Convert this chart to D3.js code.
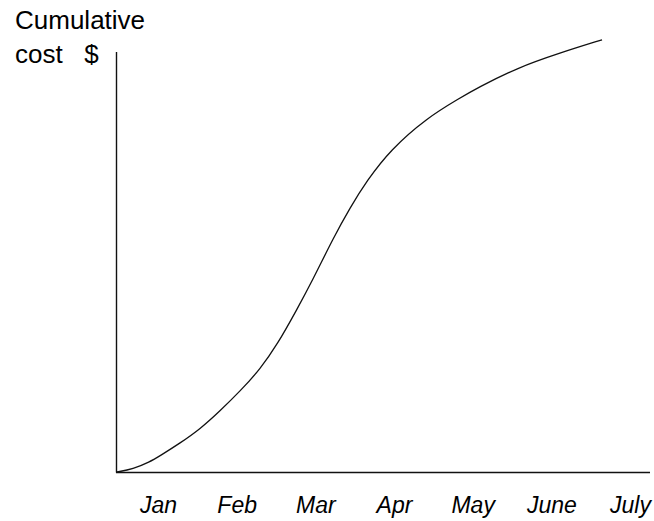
<!DOCTYPE html>
<html>
<head>
<meta charset="utf-8">
<script src="https://cdn.jsdelivr.net/npm/d3@7"></script>
<style>
  body { margin: 0; background: #fff; }
  text { font-family: "Liberation Sans", Arial, sans-serif; fill: #000; }
</style>
</head>
<body>
<div id="chart"></div>
<script>
// month labels along the bottom
const months = ["Jan", "Feb", "Mar", "Apr", "May", "June", "July"];

// cumulative cost curve: time in months from start, cost in arbitrary units
const timeMonths = [0, 0.21, 0.43, 0.56, 0.83, 1.09, 1.35, 1.62, 1.88, 2.11, 2.36, 2.57,
                    2.84, 3.06, 3.28, 3.59, 4.07, 4.50, 4.73, 5.25, 5.82, 6.37];
const costValues = [0, 0.7, 2.4, 3.8, 6.9, 10.2, 14.5, 19.3, 24.5, 30.5, 38.6, 45.7,
                    55.7, 62.9, 69.3, 76.7, 84.3, 89.0, 91.4, 96.2, 99.8, 102.9];

const width = 654, height = 521;

const svg = d3.select("#chart")
    .append("svg")
    .attr("width", width)
    .attr("height", height);

// scales
const x = d3.scaleLinear().domain([0, 7]).range([117, 650]);
const y = d3.scaleLinear().domain([0, 100]).range([472, 52]);
const xLabels = d3.scalePoint().domain(months).range([158, 630]);

const data = timeMonths.map((t, i) => ({ t: t, c: costValues[i] }));

// axes lines
svg.append("line")
    .attr("x1", 116.5).attr("x2", 116.5)
    .attr("y1", y(100)).attr("y2", y(0) + 0.5)
    .attr("stroke", "#111").attr("stroke-width", 1.4);

svg.append("line")
    .attr("x1", 116).attr("x2", x(7))
    .attr("y1", y(0) + 0.5).attr("y2", y(0) + 0.5)
    .attr("stroke", "#111").attr("stroke-width", 1.4);

// month labels
const xAxis = svg.append("g")
    .attr("transform", "translate(0," + y(0) + ")")
    .call(d3.axisBottom(xLabels).tickSize(0));

xAxis.select(".domain").remove();
xAxis.selectAll("text")
    .attr("y", 41)
    .attr("dy", 0)
    .style("font-size", "23px")
    .style("font-style", "italic")
    .style("font-family", "'Liberation Sans', Arial, sans-serif")
    .attr("fill", "#000");

// the curve
const line = d3.line()
    .x(d => x(d.t))
    .y(d => y(d.c))
    .curve(d3.curveBasis);

svg.append("path")
    .datum(data)
    .attr("fill", "none")
    .attr("stroke", "#111")
    .attr("stroke-width", 1.3)
    .attr("d", line);

// y axis title
svg.append("text")
    .attr("x", 15)
    .attr("y", 29)
    .style("font-size", "26px")
    .text("Cumulative");

svg.append("text")
    .attr("x", 15)
    .attr("y", 63)
    .style("font-size", "26px")
    .attr("xml:space", "preserve")
    .text("cost   $");
</script>
</body>
</html>
